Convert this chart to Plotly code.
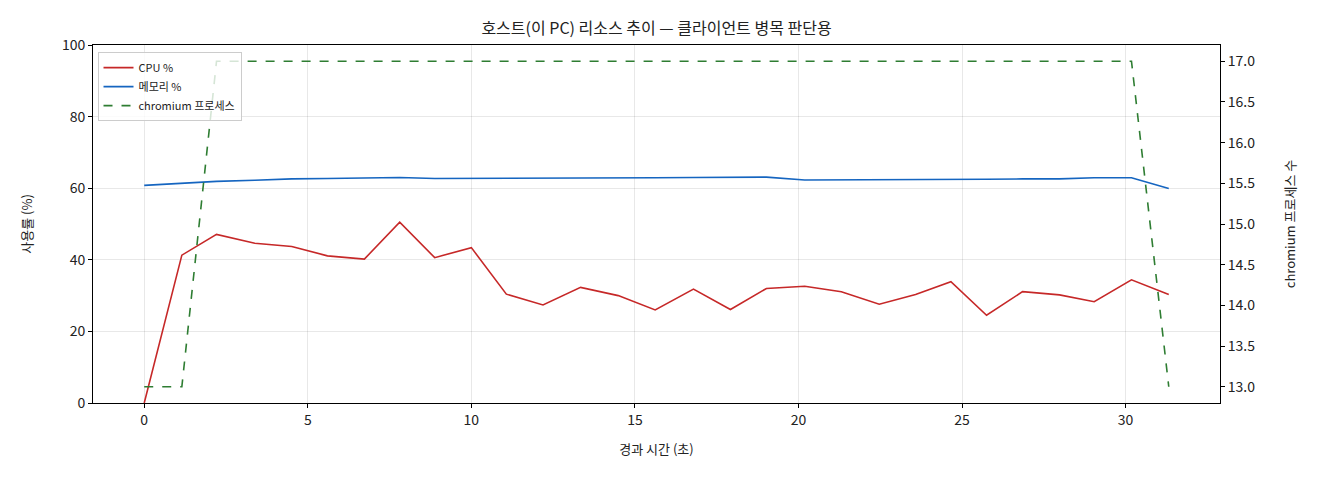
import plotly.graph_objects as go

# -------------------------------------------------
# Data
# -------------------------------------------------

elapsed_sec = [
    0.0, 1.15, 2.21, 3.38, 4.51, 5.60, 6.73, 7.81, 8.88, 10.00,
    11.07, 12.19, 13.34, 14.49, 15.62, 16.79, 17.92, 19.02, 20.19, 21.31,
    22.47, 23.58, 24.66, 25.75, 26.85, 27.98, 29.04, 30.18, 31.32,
]

cpu_pct = [
    0.0, 41.3, 47.1, 44.6, 43.7, 41.1, 40.2, 50.5, 40.6, 43.4,
    30.4, 27.4, 32.3, 30.0, 26.0, 31.8, 26.1, 32.0, 32.6, 31.1,
    27.6, 30.3, 33.9, 24.5, 31.1, 30.2, 28.3, 34.4, 30.3,
]

mem_pct = [
    60.8, 61.4, 61.9, 62.2, 62.6, 62.7, 62.8, 63.0, 62.7, 62.7,
    62.7, 62.7, 62.8, 62.9, 62.9, 63.0, 63.0, 63.1, 62.3, 62.3,
    62.4, 62.4, 62.5, 62.5, 62.6, 62.6, 62.9, 62.9, 59.9,
]

chromium_procs = [
    13, 13, 17, 17, 17, 17, 17, 17, 17, 17,
    17, 17, 17, 17, 17, 17, 17, 17, 17, 17,
    17, 17, 17, 17, 17, 17, 17, 17, 13,
]

FONT = "Noto Sans CJK KR"

# -------------------------------------------------
# Figure
# -------------------------------------------------

fig = go.Figure()

fig.add_trace(go.Scatter(
    x=elapsed_sec, y=cpu_pct, mode="lines", name="CPU %",
    line=dict(color="#c62828", width=1.6),
))

fig.add_trace(go.Scatter(
    x=elapsed_sec, y=mem_pct, mode="lines", name="메모리 %",
    line=dict(color="#1565c0", width=1.6),
))

fig.add_trace(go.Scatter(
    x=elapsed_sec, y=chromium_procs, mode="lines", name="chromium 프로세스",
    line=dict(color="#2e7d32", width=1.6, dash="dash"),
    yaxis="y2",
))

axis_common = dict(
    showline=True, linecolor="black", linewidth=1,
    ticks="outside", ticklen=4, tickcolor="black",
    tickfont=dict(family=FONT, size=14, color="#222"),
    zeroline=False,
)

fig.update_layout(
    width=1320, height=480,
    paper_bgcolor="white", plot_bgcolor="white",
    margin=dict(l=85, r=108, t=37, b=85),
    font=dict(family=FONT, color="#222"),
    title=dict(
        text="호스트(이 PC) 리소스 추이 — 클라이언트 병목 판단용",
        x=0.5, xref="paper", y=1 - 20 / 480, yanchor="middle",
        font=dict(family=FONT, size=16, color="#222"),
    ),
    xaxis=dict(
        **axis_common,
        range=[-1.566, 32.886],
        tickvals=[0, 5, 10, 15, 20, 25, 30],
        showgrid=True, gridcolor="rgba(0,0,0,0.09)",
        mirror=True,
        title=dict(text="경과 시간 (초)", font=dict(family=FONT, size=13), standoff=17),
    ),
    yaxis=dict(
        **axis_common,
        range=[0, 100],
        tickvals=[0, 20, 40, 60, 80, 100],
        showgrid=True, gridcolor="rgba(0,0,0,0.09)",
        title=dict(text="사용률 (%)", font=dict(family=FONT, size=13), standoff=26),
    ),
    yaxis2=dict(
        **axis_common,
        overlaying="y", side="right",
        range=[12.8, 17.2],
        tickvals=[13.0, 13.5, 14.0, 14.5, 15.0, 15.5, 16.0, 16.5, 17.0],
        tickformat=".1f",
        showgrid=False,
        title=dict(text="chromium 프로세스 수", font=dict(family=FONT, size=13), standoff=31),
    ),
    legend=dict(
        x=0.004, y=0.98, xanchor="left", yanchor="top",
        bgcolor="rgba(255,255,255,0.8)",
        bordercolor="#cccccc", borderwidth=1,
        font=dict(family=FONT, size=11, color="#222"),
        itemwidth=30, tracegroupgap=0,
    ),
    showlegend=True,
)

fig.write_html("out.html")
